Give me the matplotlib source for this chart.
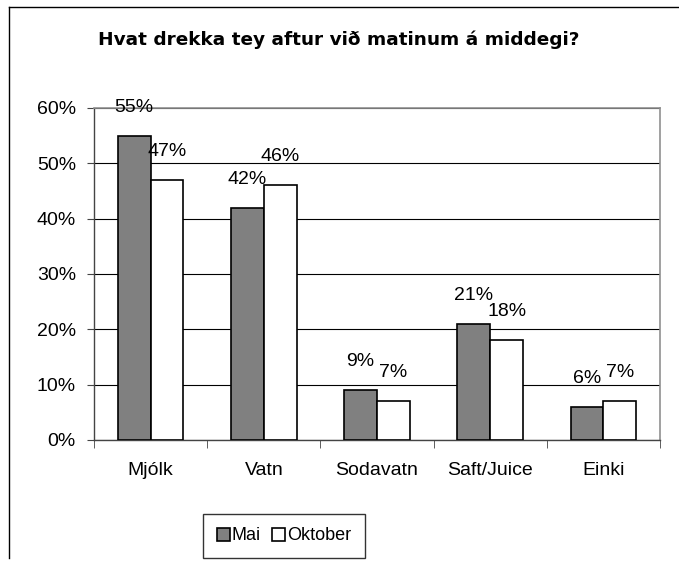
import matplotlib
matplotlib.use("Agg")
import matplotlib.pyplot as plt
import numpy as np
from matplotlib.lines import Line2D

categories = ["Mjólk", "Vatn", "Sodavatn", "Saft/Juice", "Einki"]
mai = [55, 42, 9, 21, 6]
oktober = [47, 46, 7, 18, 7]
yticks = [0, 10, 20, 30, 40, 50, 60]
title = "Hvat drekka tey aftur við matinum á middegi?"

plt.rcParams['font.family'] = ['Liberation Sans', 'DejaVu Sans']

fig = plt.figure(figsize=(6.79, 5.61), dpi=100)
ax = fig.add_axes([94/679, 1-440/561, (660-94)/679, (440-108)/561])

x = np.arange(len(categories))
w = 0.29
b1 = ax.bar(x - w/2, mai, w, color="#808080", edgecolor="black", linewidth=1.2, zorder=3, label="Mai")
b2 = ax.bar(x + w/2, oktober, w, color="white", edgecolor="black", linewidth=1.2, zorder=3, label="Oktober")

for xi, v in zip(x - w/2, mai):
    ax.annotate(f"{v}%", (xi, v), xytext=(0, 20.5), textcoords="offset points",
                ha="center", va="center", fontsize=14, zorder=5)
for xi, v in zip(x + w/2, oktober):
    ax.annotate(f"{v}%", (xi, v), xytext=(0, 20.5), textcoords="offset points",
                ha="center", va="center", fontsize=14, zorder=5)

ax.set_xlim(-0.5, len(categories) - 0.5)
ax.set_ylim(0, 60)
ax.set_yticks(yticks)
ax.set_yticklabels([f"{t}%" for t in yticks], fontsize=14)
ax.yaxis.grid(True, color="black", linewidth=0.8, zorder=0)
ax.set_axisbelow(True)

ax.set_xticks(x)
ax.set_xticklabels(categories, fontsize=14)
ax.tick_params(axis="x", length=0, pad=16)
ax.set_xticks(np.arange(-0.5, len(categories)), minor=True)
ax.tick_params(axis="x", which="minor", length=6, direction="out", color="#444444")
ax.tick_params(axis="y", length=5, direction="out", color="#444444", pad=8)

for s in ["top", "right"]:
    ax.spines[s].set_color("#909090")
    ax.spines[s].set_linewidth(1.2)
for s in ["left", "bottom"]:
    ax.spines[s].set_color("#444444")
    ax.spines[s].set_linewidth(1.0)

fig.text(339/679, 1-40/561, title, ha="center", va="center", fontsize=13.3,
         fontweight="bold", family=["DejaVu Sans"])

leg = fig.legend(handles=[b1, b2], loc="center", bbox_to_anchor=(284/679, 1-536/561),
                 ncol=2, frameon=True, fontsize=13, handlelength=0.75, handleheight=0.75,
                 handletextpad=0.1, columnspacing=0.6, borderpad=0.75, borderaxespad=0,
                 fancybox=False)
leg.get_frame().set_edgecolor("black")
leg.get_frame().set_linewidth(1.0)

# figure frame lines (top and left)
fig.add_artist(Line2D([9/679, 1.0], [1-7/561, 1-7/561], color="black", linewidth=1.0, transform=fig.transFigure))
fig.add_artist(Line2D([9/679, 9/679], [1-7/561, 1-558/561], color="black", linewidth=1.0, transform=fig.transFigure))

fig.savefig("out.png", dpi=100)
